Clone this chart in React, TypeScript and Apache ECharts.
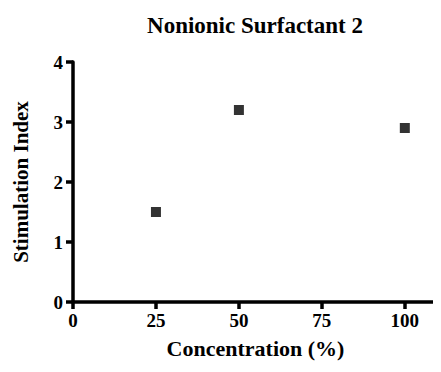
import React, { useEffect, useRef } from "react";
import * as echarts from "echarts";

const concentrations = [25, 50, 100];
const stimulationIndex = [1.5, 3.2, 2.9];
const xTicks = [0, 25, 50, 75, 100];
const yTicks = [0, 1, 2, 3, 4];

const FONT = "'Liberation Serif', 'Times New Roman', serif";

export default function App() {
  const ref = useRef<HTMLDivElement>(null);
  useEffect(() => {
    if (!ref.current) return;
    const chart = echarts.init(ref.current, undefined, { renderer: "svg" });
    chart.setOption({
      animation: false,
      backgroundColor: "#ffffff",
      title: {
        text: "Nonionic Surfactant 2",
        left: 250,
        top: 9,
        textAlign: "center",
        textStyle: { fontFamily: FONT, fontSize: 23, fontWeight: "bold", color: "#000" },
      },
      grid: { left: 73, right: 3, top: 62, bottom: 70, containLabel: false },
      xAxis: {
        type: "value",
        min: 0,
        max: 110,
        interval: 25,
        name: "Concentration (%)",
        nameLocation: "middle",
        nameGap: 35,
        nameTextStyle: { fontFamily: FONT, fontSize: 22, fontWeight: "bold", color: "#000" },
        axisLine: { show: true, onZero: false, lineStyle: { color: "#000", width: 3.5 } },
        axisTick: { show: true, length: 7, lineStyle: { color: "#000", width: 3.5 } },
        axisLabel: {
          margin: 9,
          fontFamily: FONT,
          fontSize: 19,
          fontWeight: "bold",
          color: "#000",
          formatter: (v: number) => (xTicks.includes(v) ? String(v) : ""),
        },
        splitLine: { show: false },
      },
      yAxis: {
        type: "value",
        min: 0,
        max: 4,
        interval: 1,
        name: "Stimulation Index",
        nameLocation: "middle",
        nameGap: 42,
        nameTextStyle: { fontFamily: FONT, fontSize: 21, fontWeight: "bold", color: "#000" },
        axisLine: { show: true, lineStyle: { color: "#000", width: 3.5 } },
        axisTick: { show: true, length: 7, lineStyle: { color: "#000", width: 3.5 } },
        axisLabel: {
          margin: 10,
          fontFamily: FONT,
          fontSize: 19,
          fontWeight: "bold",
          color: "#000",
          formatter: (v: number) => (yTicks.includes(v) ? String(v) : ""),
        },
        splitLine: { show: false },
      },
      series: [
        {
          type: "scatter",
          symbol: "rect",
          symbolSize: 10,
          itemStyle: { color: "#000" },
          data: concentrations.map((c, i) => [c, stimulationIndex[i]]),
        },
      ],
    });
    return () => chart.dispose();
  }, []);
  return <div ref={ref} style={{ width: 441, height: 372, margin: -8 }} />;
}
